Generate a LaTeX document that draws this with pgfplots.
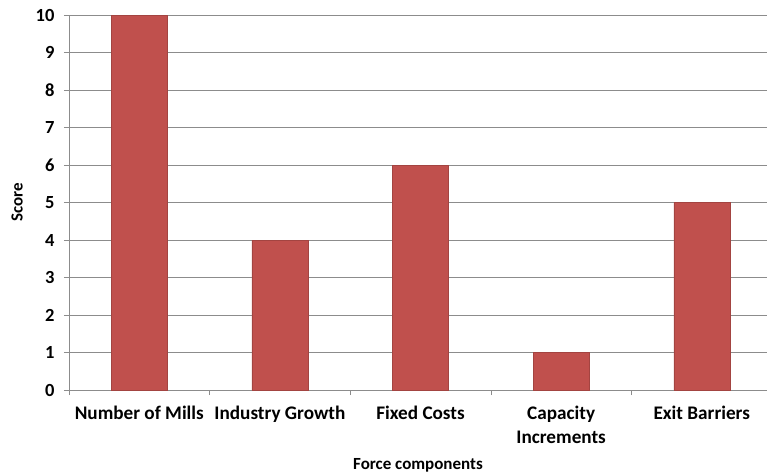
\documentclass[border=0pt]{standalone}
\usepackage{pgfplots}
\pgfplotsset{compat=1.18}
\usepackage{fontspec}
\setmainfont{Carlito}
\definecolor{barred}{HTML}{C0504D}
\definecolor{gridgray}{HTML}{8C8C8C}
\begin{document}
\begin{tikzpicture}[x=1pt,y=1pt]
\path[use as bounding box] (0,0) rectangle (767,475);
\begin{axis}[
  at={(69pt,85pt)}, anchor=south west,
  scale only axis,
  width=698pt, height=375pt,
  xmin=-0.5, xmax=4.464,
  ymin=0, ymax=10,
  ytick={0,1,...,10},
  xtick={0,1,2,3,4},
  xticklabels={Number of Mills,Industry Growth,Fixed Costs,{Capacity\\Increments},Exit Barriers},
  minor xtick={-0.5,0.5,1.5,2.5,3.5},
  major x tick style={draw=none},
  minor x tick style={draw=gridgray, thin},
  y tick style={draw=gridgray, thin},
  tick align=outside,
  major tick length=5pt,
  minor tick length=5pt,
  axis x line*=bottom,
  axis y line*=left,
  axis line style={draw=gridgray, thin, -},
  ymajorgrids,
  grid style={draw=gridgray, line width=0.8pt},
  xticklabel style={font=\fontsize{19.2}{24}\selectfont\bfseries, align=center, text depth=0pt, yshift=-7pt},
  yticklabel style={font=\fontsize{18.5}{20}\selectfont\bfseries, xshift=-6pt},
  xlabel={Force components},
  ylabel={Score},
  xlabel style={font=\fontsize{17}{20}\selectfont\bfseries, at={(axis description cs:0.5,0)}, anchor=center, yshift=-75pt},
  ylabel style={font=\fontsize{17}{20}\selectfont\bfseries, at={(axis description cs:-0.0745,0.5)}, anchor=center},
  /pgf/number format/assume math mode=true,
  clip=false,
]
\addplot[ybar, bar width=56pt, fill=barred, draw=barred!85!black] coordinates {
  (0,10) (1,4) (2,6) (3,1) (4,5)
};
\end{axis}
\end{tikzpicture}
\end{document}
